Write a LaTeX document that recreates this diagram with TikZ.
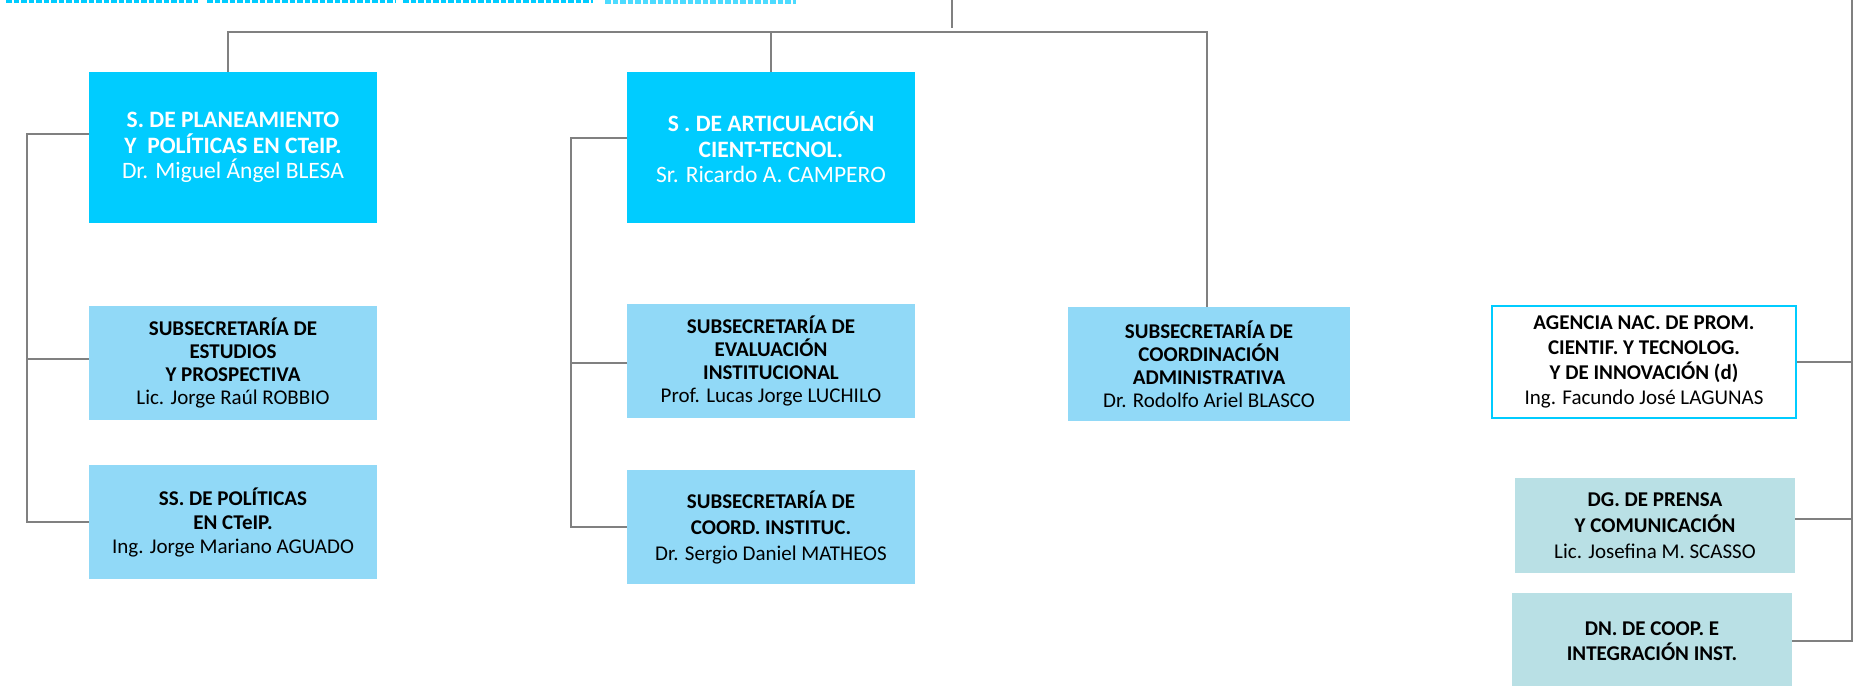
\documentclass[tikz,border=0pt]{standalone}
\usepackage{fontspec}
\setmainfont{Carlito}
\usepackage{xcolor}
\usetikzlibrary{positioning, calc}
\definecolor{headcyan}{RGB}{0, 204, 255}
\definecolor{subblue}{RGB}{145, 217, 247}
\definecolor{dirteal}{RGB}{185, 224, 229}
\definecolor{linegray}{RGB}{128, 128, 128}

\begin{document}
\begin{tikzpicture}[x=1pt, y=-1pt,
        head/.style={fill=headcyan, text=white, minimum width=288pt, minimum height=151pt, inner sep=0pt, align=center,
            font=\fontsize{23.5}{25.5}\selectfont},
        sub/.style={fill=subblue, text=black, minimum width=288pt, minimum height=114pt, inner sep=0pt, align=center,
            font=\fontsize{21}{23}\selectfont},
        agency/.style={draw=headcyan, line width=2pt, fill=white, text=black, minimum width=304pt, minimum height=112pt,
            inner sep=0pt, align=center, font=\fontsize{21}{25}\selectfont},
        direc/.style={fill=dirteal, text=black, minimum width=280pt, minimum height=95pt, inner sep=0pt, align=center,
            font=\fontsize{21}{26}\selectfont},
        link/.style={draw=linegray, line width=2pt},
        topdash/.style={draw=headcyan, line width=2.4pt, dash pattern=on 5.5pt off 2pt}
    ]
        \useasboundingbox (0,0) rectangle (1865,685);

        % Cut-off boxes above
        \draw[topdash] (6,1.5) -- (198,1.5);
        \draw[topdash] (207,1.5) -- (395,1.5);
        \draw[topdash] (403,1.5) -- (593,1.5);
        \draw[topdash, headcyan!70, line width=3.5pt] (605,2) -- (796,2);

        % Secretarías
        \node[head] (plan) at (233,147.5) {
            \textbf{S. DE PLANEAMIENTO}\\
            \textbf{Y\ \ POLÍTICAS EN CTeIP.}\\
            Dr. Miguel Ángel BLESA
        };
        \node[head] (artic) at (771,147.5) {
            \textbf{S . DE ARTICULACIÓN}\\
            \textbf{CIENT-TECNOL.}\\
            Sr. Ricardo A. CAMPERO
        };

        % Subsecretarías
        \node[sub] (estud) at (233,363) {
            \textbf{SUBSECRETARÍA DE}\\
            \textbf{ESTUDIOS}\\
            \textbf{Y PROSPECTIVA}\\
            Lic. Jorge Raúl ROBBIO
        };
        \node[sub, font=\fontsize{21}{24}\selectfont] (polit) at (233,522) {
            \textbf{SS. DE POLÍTICAS}\\
            \textbf{EN CTeIP.}\\
            Ing. Jorge Mariano AGUADO
        };
        \node[sub] (evalu) at (771,361) {
            \textbf{SUBSECRETARÍA DE}\\
            \textbf{EVALUACIÓN}\\
            \textbf{INSTITUCIONAL}\\
            Prof. Lucas Jorge LUCHILO
        };
        \node[sub, font=\fontsize{21}{26}\selectfont] (coord) at (771,527) {
            \textbf{SUBSECRETARÍA DE}\\
            \textbf{COORD. INSTITUC.}\\
            Dr. Sergio Daniel MATHEOS
        };
        \node[sub, minimum width=282pt] (admin) at (1209,364) {
            \textbf{SUBSECRETARÍA DE}\\
            \textbf{COORDINACIÓN}\\
            \textbf{ADMINISTRATIVA}\\
            Dr. Rodolfo Ariel BLASCO
        };

        % Organismos
        \node[agency] (agencia) at (1644,362) {
            \textbf{AGENCIA NAC. DE PROM.}\\
            \textbf{CIENTIF. Y TECNOLOG.}\\
            \textbf{Y DE INNOVACIÓN (d)}\\
            Ing. Facundo José LAGUNAS
        };
        \node[direc] (prensa) at (1655,525.5) {
            \textbf{DG. DE PRENSA}\\
            \textbf{Y COMUNICACIÓN}\\
            Lic. Josefina M. SCASSO
        };
        \node[direc, minimum height=96pt, font=\fontsize{21}{25}\selectfont] (coop) at (1652,641) {
            \textbf{DN. DE COOP. E}\\
            \textbf{INTEGRACIÓN INST.}
        };

        % Connectors
        \coordinate (top) at (952,0);
        \coordinate (topend) at (952,28);
        \coordinate (busL) at (228,32);
        \coordinate (busR) at (1207,32);
        \coordinate (lbar) at (27,0);
        \coordinate (mbar) at (571,0);
        \coordinate (rbar) at (1852,0);

        \draw[link] (top) -- (topend);
        \draw[link] (plan.north -| busL) |- (busR) -- (admin.north -| busR);
        \draw[link] (artic.north) -- (artic.north |- busL);

        \draw[link] ([yshift=13.5pt]plan.west) -| (lbar |- polit.west) -- (polit.west);
        \draw[link] ([yshift=4pt]estud.west) -- ([yshift=4pt]estud.west -| lbar);

        \draw[link] ([yshift=9.5pt]artic.west) -| (mbar |- coord.west) -- (coord.west);
        \draw[link] ([yshift=-2pt]evalu.west) -- ([yshift=-2pt]evalu.west -| mbar);

        \draw[link] (rbar) |- (coop.east);
        \draw[link] (agencia.east) -- (agencia.east -| rbar);
        \draw[link] ([yshift=6.5pt]prensa.east) -- ([yshift=6.5pt]prensa.east -| rbar);
    \end{tikzpicture}
\end{document}
